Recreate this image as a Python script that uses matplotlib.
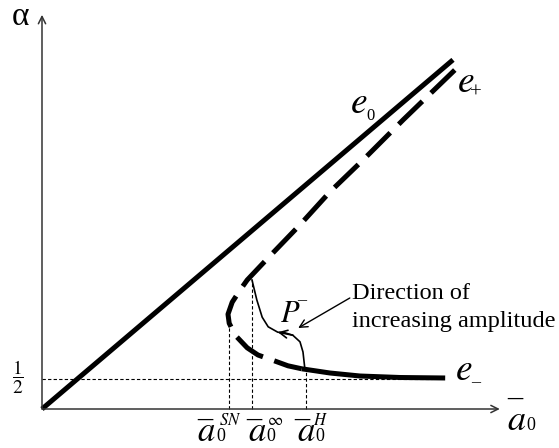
import matplotlib
matplotlib.use("Agg")
import matplotlib.pyplot as plt

plt.rcParams["font.family"] = ["Liberation Serif", "DejaVu Serif"]
plt.rcParams["mathtext.fontset"] = "stix"

# Values (a0 on x, alpha on y)
e0_a = [0.0, 6.85]
e0_alpha = [0.0, 5.82]

# unstable part of the fold: upper branch e+ down round the nose to a0_H
fold_a = [6.88, 6.02, 5.35, 4.80, 4.30, 3.77, 3.42, 3.30, 3.17, 3.10,
          3.12, 3.22, 3.42, 3.60, 3.88, 4.10, 4.33]
fold_alpha = [5.65, 4.82, 4.15, 3.62, 3.07, 2.52, 2.15, 1.98, 1.78, 1.58,
              1.43, 1.23, 1.02, 0.90, 0.80, 0.72, 0.67]

# stable lower branch e-
low_a = [4.33, 4.80, 5.30, 5.97, 6.72]
low_alpha = [0.67, 0.60, 0.55, 0.525, 0.517]

# P- curve between a0_inf and a0_H
p_a = [3.50, 3.58, 3.67, 3.77, 3.93, 4.05, 4.18, 4.30, 4.35, 4.38]
p_alpha = [2.15, 1.82, 1.53, 1.37, 1.28, 1.27, 1.23, 1.12, 0.95, 0.68]

a_sn, a_inf, a_h = 3.12, 3.50, 4.40
alpha_sn, alpha_inf, alpha_h = 1.58, 2.15, 0.68
half = 0.5

fig = plt.figure(figsize=(5.59, 4.48), dpi=100)
ax = fig.add_axes([0, 0, 1, 1])
ax.set_xlim(-0.70, 8.617)
ax.set_ylim(-0.65, 6.817)
ax.axis("off")

axis_col = "#333333"
arrow = dict(arrowstyle="->", lw=1.1, color=axis_col, shrinkA=0, shrinkB=0,
             mutation_scale=13)
ax.annotate("", xy=(7.63, 0), xytext=(0, 0), arrowprops=arrow)
ax.annotate("", xy=(0, 6.57), xytext=(0, 0), arrowprops=arrow)

# guide lines
guide = dict(color="black", lw=0.8, linestyle=(0, (3, 2)))
ax.plot([0, 6.5], [half, half], **guide)
ax.plot([a_sn, a_sn], [0, alpha_sn], **guide)
ax.plot([a_inf, a_inf], [0, alpha_inf], **guide)
ax.plot([a_h, a_h], [0, alpha_h], **guide)

# branches
ax.plot(e0_a, e0_alpha, color="black", lw=3.6, solid_capstyle="butt")
ax.plot(fold_a, fold_alpha, color="black", lw=3.6, linestyle=(0, (6.6, 2.4)),
        dash_capstyle="butt")
ax.plot(low_a, low_alpha, color="black", lw=3.6, solid_capstyle="butt")

# P- curve with arrow
ax.plot(p_a, p_alpha, color="black", lw=1.2)
ax.annotate("", xy=(p_a[4], p_alpha[4]), xytext=(p_a[6], p_alpha[6]),
            arrowprops=dict(arrowstyle="->", lw=1.2, color="black",
                            shrinkA=0, shrinkB=0, mutation_scale=14))


def off(txt, xy, dx, dy, size, **kw):
    # text placed at an offset (points) from a data point
    ax.annotate(txt, xy, xytext=(dx, dy), textcoords="offset points",
                fontsize=size, **kw)


def bar_a0(xy, sup, ax_dx, sup_dx, bar_dx, sup_size=12):
    off(r"$a$", xy, ax_dx, -23.0, 25, ha="left", va="baseline")
    off("0", xy, ax_dx + 13.5, -23.0, 13, ha="left", va="baseline")
    off("\u2013", xy, bar_dx, -7.4, 22, ha="center", va="center")
    off(sup, xy, sup_dx, -8.6, sup_size, ha="left", va="center")


# labels
ax.text(-0.35, 6.40, "\u03b1", fontsize=24, ha="center", va="baseline")
ax.text(-0.40, 0.52, r"$\dfrac{1}{2}$", fontsize=14, ha="center", va="center")

ax.text(5.133, 4.933, r"$e$", fontsize=27, ha="left", va="baseline")
off("0", (5.133, 4.933), 11.5, -5, 12, ha="left", va="baseline")
ax.text(6.917, 5.283, r"$e$", fontsize=27, ha="left", va="baseline")
off("+", (6.917, 5.283), 9.4, -1, 15, ha="left", va="center")
ax.text(6.883, 0.483, r"$e$", fontsize=27, ha="left", va="baseline")
off("\u2013", (6.883, 0.483), 11.5, -2, 13, ha="left", va="center")

ax.text(3.967, 1.45, r"$P$", fontsize=22, ha="left", va="baseline")
off("\u2013", (3.967, 1.45), 12.5, 15.5, 13, ha="left", va="center")

# axis label a0 with bar
ax.text(7.75, -0.35, r"$a$", fontsize=26, ha="left", va="baseline")
off("0", (7.75, -0.35), 14, 0, 13, ha="left", va="baseline")
off("\u2013", (7.75, -0.35), 5.8, 23, 22, ha="center", va="center")

# tick labels under the a0 axis
bar_a0((a_sn, 0), r"$SN$", -23, -7.2, -17.6)
bar_a0((a_inf, 0), r"$\infty$", -2.9, 10.8, 1.1)
bar_a0((a_h, 0), r"$H$", -6.5, 5.0, -3.2)

ax.text(5.17, 1.833, "Direction of", fontsize=17.5, ha="left", va="baseline")
ax.text(5.17, 1.367, "increasing amplitude", fontsize=17.5, ha="left",
        va="baseline")
ax.annotate("", xy=(4.27, 1.35), xytext=(5.13, 1.85),
            arrowprops=dict(arrowstyle="->", lw=1.0, color="black",
                            shrinkA=0, shrinkB=0, mutation_scale=14))

fig.savefig("out.png", dpi=100)
